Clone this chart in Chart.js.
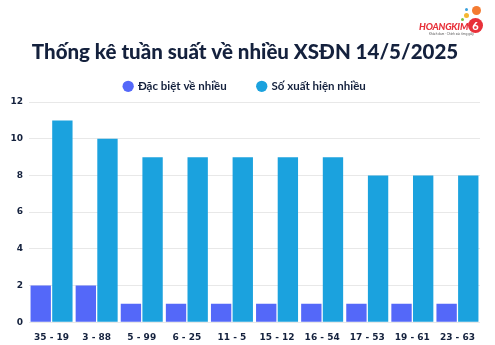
<!DOCTYPE html>
<html>
<head>
<meta charset="utf-8">
<script src="https://cdn.jsdelivr.net/npm/chart.js@4"></script>
<style>
  html, body { margin: 0; padding: 0; background: #fff; }
  #wrap { position: relative; width: 495px; height: 345px; }
  #logo { position: absolute; right: 8px; top: 4px; width: 70px; height: 34px; }
  #logo .txt { position: absolute; left: 2px; top: 17px; font: italic 900 9.5px "Lato", sans-serif; color: #e8313a; letter-spacing: -0.2px; }
  #logo .six { position: absolute; left: 51px; top: 14px; width: 15px; height: 15px; border-radius: 50%; background: #e8313a; color: #fff; font: 900 11px "Lato", sans-serif; text-align: center; line-height: 15px; }
  #logo .dot { position: absolute; border-radius: 50%; }
  #logo .sub { position: absolute; left: 12px; top: 28px; font: 3px sans-serif; color: #555; }
</style>
</head>
<body>
<div id="wrap">
  <canvas id="chart" width="495" height="345"></canvas>
  <div id="logo">
    <span class="dot" style="left:55px;top:2px;width:9px;height:9px;background:#f47b31"></span>
    <span class="dot" style="left:47px;top:9px;width:5px;height:5px;background:#f5b731"></span>
    <span class="dot" style="left:44px;top:14px;width:3px;height:3px;background:#7cc242"></span>
    <span class="dot" style="left:48px;top:4px;width:3px;height:3px;background:#3aa0dc"></span>
    <span class="txt">HOANGKIM</span>
    <span class="six">6</span>
    <span class="sub">Khách đam · Chính xác từng giây</span>
  </div>
</div>
<script>
// pairs of numbers
const labels = ['35 - 19', '3 - 88', '5 - 99', '6 - 25', '11 - 5', '15 - 12', '16 - 54', '17 - 53', '19 - 61', '23 - 63'];
// times as special prize
const dacBiet = [2, 2, 1, 1, 1, 1, 1, 1, 1, 1];
// times appeared
const soXuatHien = [11, 10, 9, 9, 9, 9, 9, 8, 8, 8];
const yTicks = [0, 2, 4, 6, 8, 10, 12];

const dark = '#14213d';

new Chart(document.getElementById('chart').getContext('2d'), {
  type: 'bar',
  data: {
    labels,
    datasets: [
      { label: 'Đặc biệt về nhiều', data: dacBiet, backgroundColor: '#5468f9' },
      { label: 'Số xuất hiện nhiều', data: soXuatHien, backgroundColor: '#1ba2de' }
    ]
  },
  options: {
    responsive: false,
    animation: false,
    layout: { padding: { left: 10, right: 15, top: 0, bottom: 0 } },
    datasets: { bar: { categoryPercentage: 0.96, barPercentage: 0.94 } },
    plugins: {
      title: {
        display: true,
        text: 'Thống kê tuần suất về nhiều XSĐN 14/5/2025',
        color: dark,
        font: { family: 'Lato', size: 20.5, weight: '900' },
        padding: { top: 40, bottom: -15 }
      },
      legend: {
        labels: {
          usePointStyle: true,
          pointStyle: 'circle',
          boxWidth: 8,
          boxHeight: 8,
          padding: 31,
          color: dark,
          font: { family: 'Lato', size: 11.5, weight: 'bold' }
        }
      },
      tooltip: { enabled: false }
    },
    scales: {
      x: {
        grid: { display: false },
        border: { display: false },
        ticks: { color: dark, font: { family: 'Verdana, DejaVu Sans', size: 9, weight: 'bold' }, padding: 2 }
      },
      y: {
        min: 0,
        max: 12,
        afterBuildTicks: axis => { axis.ticks = yTicks.map(v => ({ value: v })); },
        afterFit: axis => { axis.width = 19; },
        grid: { color: '#e8e8e8', drawTicks: false },
        border: { display: false },
        ticks: { color: dark, font: { family: 'Verdana, DejaVu Sans', size: 9, weight: 'bold' }, padding: 6 }
      }
    }
  }
});
</script>
</body>
</html>
